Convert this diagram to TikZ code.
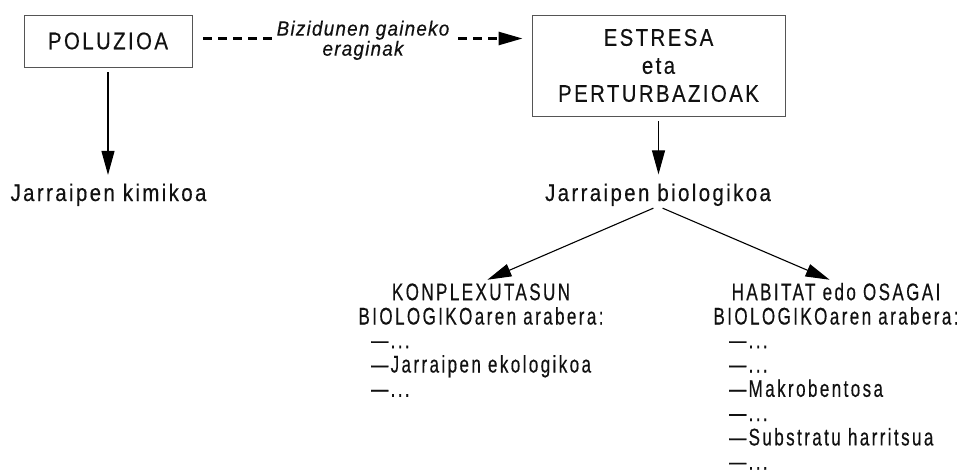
\documentclass[tikz,border=0pt]{standalone}
\usepackage{fontspec}
\setmainfont{Liberation Sans}[FakeStretch=0.71, LetterSpace=10, FakeBold=0.4]
\newfontfamily\widef{Liberation Sans}[FakeStretch=0.85, LetterSpace=10, FakeBold=0.4]
\newfontfamily\labf{Liberation Sans}[FakeStretch=0.92, LetterSpace=6, FakeBold=0.3]
\usetikzlibrary{arrows.meta}
\definecolor{ink}{HTML}{111111}
\definecolor{frame}{HTML}{555555}
\newcommand{\tp}{\rule{0pt}{17.5pt}}
\tikzset{
  box/.style={draw=frame, line width=0.9pt, inner sep=0pt, text=ink, align=center,
              font=\widef\fontsize{24}{28}\selectfont},
  toptxt/.style={inner sep=0pt, text=ink, font=\widef\fontsize{24}{28}\selectfont},
  lowtxt/.style={inner sep=0pt, text=ink, font=\fontsize{24}{24.3}\selectfont},
  lbltxt/.style={inner xsep=3pt, inner ysep=0pt, fill=white, text=ink, align=center,
                 font=\labf\itshape\fontsize{20.5}{18}\selectfont},
  arr/.style={draw=black, line width=1.1pt, -{Triangle[length=24pt,width=13pt]}},
  dsh/.style={draw=black, line width=2.6pt, dash pattern=on 9pt off 6pt,
              -{Triangle[length=24pt,width=13pt]}}
}
\begin{document}
\begin{tikzpicture}[x=1pt,y=-1pt]
\useasboundingbox (0,0) rectangle (960,473);
% boxes
\node[box, minimum width=168pt, minimum height=52pt] (pol) at (108,41) {POLUZIOA};
\node[box, minimum width=253pt, minimum height=101pt] (est) at (658.5,65.5)
  {ESTRESA\\eta\\PERTURBAZIOAK};
% monitoring labels
\node[toptxt, anchor=base] (kim) at (108.5,201) {Jarraipen kimikoa};
\node[toptxt, anchor=base] (bio) at (658,201) {Jarraipen biologikoa};
% lower headers
\node[lowtxt, align=center, anchor=north] (konp) at (481,282.5)
  {\tp KONPLEXUTASUN\\BIOLOGIKOaren arabera:};
\node[lowtxt, align=center, anchor=north] (hab) at (836,282.5)
  {\tp HABITAT edo OSAGAI\\BIOLOGIKOaren arabera:};
% lists
\node[lowtxt, align=left, anchor=north west] (konpl) at (371,330.5)
  {\tp —...\\—Jarraipen ekologikoa\\—...};
\node[lowtxt, align=left, anchor=north west] (habl) at (729,330.5)
  {\tp —...\\—...\\—Makrobentosa\\—...\\—Substratu harritsua\\—...};
% connectors
\draw[dsh] ([xshift=11pt,yshift=2.5pt]pol.east) -- ([xshift=-9pt,yshift=2.5pt]pol.east -| est.west);
\node[lbltxt, anchor=north] (lab) at (363,20.5) {Bizidunen gaineko\\eraginak};
\draw[arr, shorten <=5pt, shorten >=8.5pt] (pol.south) -- (pol.south |- kim.north);
\draw[arr, shorten <=5pt, shorten >=9pt] (est.south) -- (est.south |- bio.north);
\draw[arr, shorten <=5pt, shorten >=7pt] (bio.south) -- (konp.north);
\draw[arr, shorten <=5pt, shorten >=7pt] (bio.south) -- (hab.north);
\end{tikzpicture}
\end{document}
